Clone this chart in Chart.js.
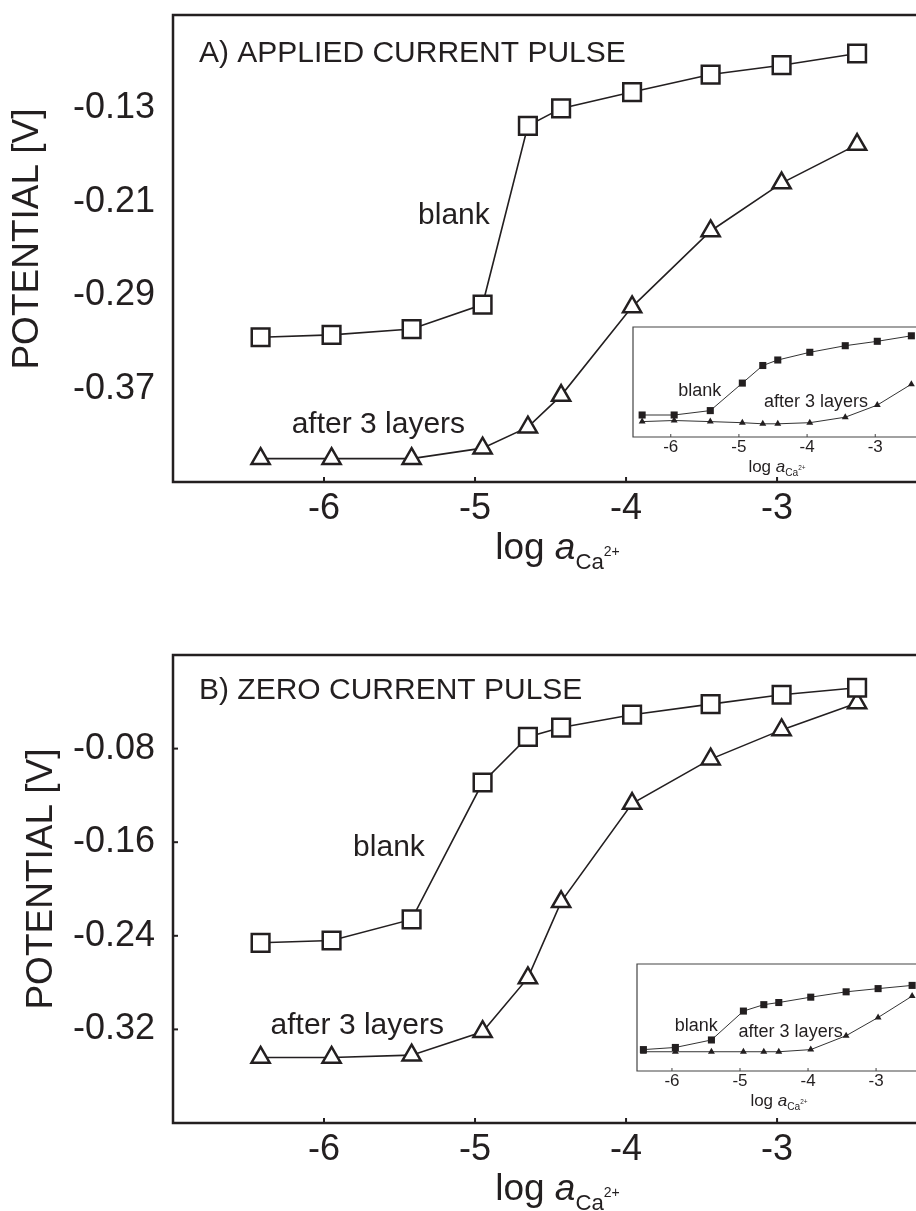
<!DOCTYPE html>
<html>
<head>
<meta charset="utf-8">
<script src="https://cdn.jsdelivr.net/npm/chart.js@4.4.1/dist/chart.umd.min.js"></script>
<style>
  html, body { margin: 0; padding: 0; background: #fff; }
  #wrap { position: relative; width: 916px; height: 1211px; overflow: hidden; }
  canvas { position: absolute; }
</style>
</head>
<body>
<div id="wrap">
  <canvas id="mainA" width="916" height="600" style="left:0;top:0"></canvas>
  <canvas id="insetA" width="296" height="160" style="left:620px;top:320px"></canvas>
  <canvas id="mainB" width="916" height="601" style="left:0;top:610px"></canvas>
  <canvas id="insetB" width="296" height="160" style="left:620px;top:955px"></canvas>
</div>
<script>
// Dados
const logA = [-6.42, -5.95, -5.42, -4.95, -4.65, -4.43, -3.96, -3.44, -2.97, -2.47];

// A) applied current pulse, potential [V]
const blankA  = [-0.326, -0.324, -0.319, -0.298, -0.145, -0.130, -0.116, -0.101, -0.093, -0.083];
const layersA = [-0.430, -0.430, -0.430, -0.421, -0.403, -0.376, -0.300, -0.235, -0.194, -0.161];

// B) zero current pulse, potential [V]
const blankB  = [-0.246, -0.244, -0.226, -0.109, -0.070, -0.062, -0.051, -0.042, -0.034, -0.028];
const layersB = [-0.344, -0.344, -0.342, -0.322, -0.276, -0.211, -0.127, -0.089, -0.064, -0.041];

// insets (no y scale shown, relative units 0..1)
const insetBlankA  = [0.20, 0.20, 0.24, 0.49, 0.65, 0.70, 0.77, 0.83, 0.87, 0.92];
const insetLayersA = [0.14, 0.15, 0.14, 0.13, 0.12, 0.12, 0.13, 0.18, 0.29, 0.48];
const insetBlankB  = [0.20, 0.22, 0.29, 0.56, 0.62, 0.64, 0.69, 0.74, 0.77, 0.80];
const insetLayersB = [0.18, 0.18, 0.18, 0.18, 0.18, 0.18, 0.20, 0.33, 0.50, 0.70];

// Ticks
const xTicks  = [-6, -5, -4, -3];
const yTicksA = [-0.37, -0.29, -0.21, -0.13];
const yTicksB = [-0.32, -0.24, -0.16, -0.08];

const INK = '#231f20';
const FAM = "'Liberation Sans', Arial, sans-serif";

const pts = (ys) => logA.map((x, i) => ({ x, y: ys[i] }));

// sem padding automático das labels
const noPad = (s) => { s.paddingLeft = 0; s.paddingRight = 0; s.paddingTop = 0; s.paddingBottom = 0; };

// log a_Ca2+ com subscrito/sobrescrito
const drawLogA = (ctx, cx, base, s) => {
  const parts = [
    { t: 'log ', f: `${s}px ${FAM}`, dy: 0 },
    { t: 'a', f: `italic ${s}px ${FAM}`, dy: 0 },
    { t: 'Ca', f: `${s * 0.6}px ${FAM}`, dy: s * 0.27 },
    { t: '2+', f: `${s * 0.38}px ${FAM}`, dy: -s * 0.08 }
  ];
  let w = 0;
  parts.forEach(p => { ctx.font = p.f; p.w = ctx.measureText(p.t).width; w += p.w; });
  let x = cx - w / 2;
  ctx.textAlign = 'left';
  ctx.textBaseline = 'alphabetic';
  parts.forEach(p => { ctx.font = p.f; ctx.fillText(p.t, x, base + p.dy); x += p.w; });
};

const decor = {
  id: 'decor',
  beforeDraw(chart, args, o) {
    if (!o.fill) return;
    const a = chart.chartArea;
    chart.ctx.save();
    chart.ctx.fillStyle = o.fill;
    chart.ctx.fillRect(a.left, a.top, chart.width - a.left, a.bottom - a.top);
    chart.ctx.restore();
  },
  afterDraw(chart, args, o) {
    const { ctx, chartArea: a, scales: { x, y } } = chart;
    const right = chart.width + 5;
    ctx.save();
    ctx.strokeStyle = o.frameColor;
    ctx.lineWidth = o.frameWidth;
    ctx.beginPath();
    ctx.moveTo(right, a.top); ctx.lineTo(a.left, a.top);
    ctx.lineTo(a.left, a.bottom); ctx.lineTo(right, a.bottom);
    ctx.stroke();

    // marcas para dentro
    ctx.lineWidth = o.tickWidth;
    x.ticks.forEach(t => {
      const px = x.getPixelForValue(t.value);
      ctx.beginPath(); ctx.moveTo(px, a.bottom); ctx.lineTo(px, a.bottom - o.tickLen); ctx.stroke();
    });
    if (o.yTickLen) {
      y.ticks.forEach(t => {
        const py = y.getPixelForValue(t.value);
        ctx.beginPath(); ctx.moveTo(a.left, py); ctx.lineTo(a.left + o.yTickLen, py); ctx.stroke();
      });
    }

    ctx.fillStyle = INK;
    ctx.textAlign = 'center';
    ctx.textBaseline = 'middle';
    (o.notes || []).forEach(n => {
      ctx.font = `${n.size}px ${FAM}`;
      ctx.fillText(n.text, x.getPixelForValue(n.x), y.getPixelForValue(n.y));
    });

    if (o.title) {
      ctx.textAlign = 'left';
      ctx.textBaseline = 'alphabetic';
      ctx.font = `30px ${FAM}`;
      ctx.fillText(o.title, a.left + 26, a.top + o.titleDy);
    }

    if (o.yTitle) {
      ctx.save();
      ctx.translate(o.yTitleX, a.top + 224);
      ctx.rotate(-Math.PI / 2);
      ctx.textAlign = 'center';
      ctx.textBaseline = 'middle';
      ctx.font = `37px ${FAM}`;
      ctx.fillText(o.yTitle, 0, 0);
      ctx.restore();
    }

    drawLogA(ctx, (a.left + chart.width) / 2 + o.xTitleShift, a.bottom + o.xTitleDy, o.xTitleSize);
    ctx.restore();
  }
};

const mainChart = (id, cfg) => new Chart(document.getElementById(id), {
  type: 'scatter',
  data: {
    datasets: [
      {
        data: pts(cfg.blank), showLine: true, borderColor: INK, borderWidth: 1.6,
        pointStyle: 'rect', pointRadius: 12.5, pointBorderWidth: 2.5,
        pointBackgroundColor: '#fff', pointBorderColor: INK
      },
      {
        data: pts(cfg.layers), showLine: true, borderColor: INK, borderWidth: 1.6,
        pointStyle: 'triangle', pointRadius: 10.5, pointBorderWidth: 2.5,
        pointBackgroundColor: '#fff', pointBorderColor: INK
      }
    ]
  },
  options: {
    responsive: false,
    animation: false,
    events: [],
    layout: { autoPadding: false, padding: { left: 0, right: 0, top: cfg.top, bottom: 0 } },
    plugins: {
      legend: { display: false },
      tooltip: { enabled: false },
      decor: {
        frameColor: INK, frameWidth: 2.5, tickWidth: 2, tickLen: 5, yTickLen: cfg.yTickLen,
        title: cfg.title, titleDy: cfg.titleDy,
        yTitle: 'POTENTIAL [V]', yTitleX: cfg.yTitleX,
        xTitleShift: 13, xTitleDy: 77, xTitleSize: 37,
        notes: cfg.notes
      }
    },
    scales: {
      x: {
        type: 'linear', min: -7, max: -2.08,
        afterBuildTicks: s => { s.ticks = xTicks.map(v => ({ value: v })); },
        afterFit: s => { s.height = cfg.xH; noPad(s); },
        ticks: { font: { family: FAM, size: 36 }, color: INK, padding: 5, callback: v => String(v) },
        grid: { display: false, drawTicks: false },
        border: { display: false }
      },
      y: {
        min: cfg.yMin, max: cfg.yMax,
        afterBuildTicks: s => { s.ticks = cfg.yTicks.map(v => ({ value: v })); },
        afterFit: s => { s.width = 173; noPad(s); },
        ticks: { font: { family: FAM, size: 36 }, color: INK, padding: 18, callback: v => v.toFixed(2) },
        grid: { display: false, drawTicks: false },
        border: { display: false }
      }
    }
  },
  plugins: [decor]
});

const insetChart = (id, cfg) => new Chart(document.getElementById(id), {
  type: 'scatter',
  data: {
    datasets: [
      {
        data: pts(cfg.blank), showLine: true, borderColor: '#333', borderWidth: 1,
        pointStyle: 'rect', pointRadius: 5, pointBorderWidth: 0,
        pointBackgroundColor: INK
      },
      {
        data: pts(cfg.layers), showLine: true, borderColor: '#333', borderWidth: 1,
        pointStyle: 'triangle', pointRadius: 4, pointBorderWidth: 0,
        pointBackgroundColor: INK
      }
    ]
  },
  options: {
    responsive: false,
    animation: false,
    events: [],
    layout: { autoPadding: false, padding: { left: cfg.left, right: 0, top: cfg.top, bottom: 0 } },
    plugins: {
      legend: { display: false },
      tooltip: { enabled: false },
      decor: {
        fill: '#fff', frameColor: '#444', frameWidth: 1.2, tickWidth: 1, tickLen: 3,
        xTitleShift: 2.5, xTitleDy: 34.5, xTitleSize: 17,
        notes: cfg.notes
      }
    },
    scales: {
      x: {
        type: 'linear', min: cfg.xMin, max: cfg.xMax,
        afterBuildTicks: s => { s.ticks = xTicks.map(v => ({ value: v })); },
        afterFit: s => { s.height = cfg.xH; noPad(s); },
        ticks: { font: { family: FAM, size: 17 }, color: INK, padding: 0, callback: v => String(v) },
        grid: { display: false, drawTicks: false },
        border: { display: false }
      },
      y: { display: false, min: 0, max: 1 }
    }
  },
  plugins: [decor]
});

mainChart('mainA', {
  blank: blankA, layers: layersA, yMin: -0.45, yMax: -0.05, yTicks: yTicksA,
  top: 15, xH: 118, yTickLen: 0, title: 'A) APPLIED CURRENT PULSE', titleDy: 47, yTitleX: 28,
  notes: [
    { text: 'blank', x: -5.14, y: -0.222, size: 30 },
    { text: 'after 3 layers', x: -5.64, y: -0.401, size: 30 }
  ]
});

insetChart('insetA', {
  blank: insetBlankA, layers: insetLayersA, xMin: -6.554, xMax: -2.402,
  left: 13, top: 7, xH: 43,
  notes: [
    { text: 'blank', x: -5.574, y: 0.418, size: 18 },
    { text: 'after 3 layers', x: -3.87, y: 0.32, size: 18 }
  ]
});

mainChart('mainB', {
  blank: blankB, layers: layersB, yMin: -0.40, yMax: 0.0, yTicks: yTicksB,
  top: 45, xH: 88, yTickLen: 5, title: 'B) ZERO CURRENT PULSE', titleDy: 44, yTitleX: 42,
  notes: [
    { text: 'blank', x: -5.57, y: -0.165, size: 30 },
    { text: 'after 3 layers', x: -5.78, y: -0.317, size: 30 }
  ]
});

insetChart('insetB', {
  blank: insetBlankB, layers: insetLayersB, xMin: -6.514, xMax: -2.413,
  left: 17, top: 9, xH: 44,
  notes: [
    { text: 'blank', x: -5.643, y: 0.423, size: 18 },
    { text: 'after 3 layers', x: -4.256, y: 0.367, size: 18 }
  ]
});
</script>
</body>
</html>
